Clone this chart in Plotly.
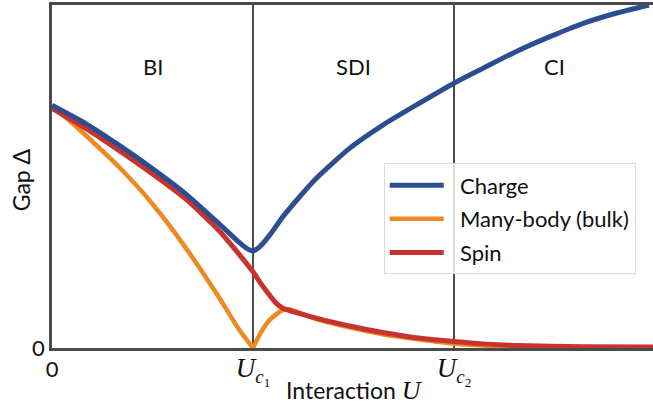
import plotly.graph_objects as go

# Charge gap
charge_u = [0.0, 0.166, 0.331, 0.497, 0.662, 0.828, 0.927, 0.965, 1.0, 1.033, 1.083,
            1.149, 1.232, 1.315, 1.480, 1.646, 1.811, 2.0, 2.143, 2.308, 2.474,
            2.640, 2.805, 2.97]
charge_gap = [0.708, 0.655, 0.592, 0.524, 0.451, 0.364, 0.310, 0.292, 0.283, 0.295, 0.329,
              0.383, 0.441, 0.495, 0.582, 0.650, 0.708, 0.772, 0.815, 0.864, 0.907,
              0.946, 0.976, 1.0]

# Many-body (bulk) gap; it closes at the first critical point (index 8)
bulk_u = [0.0, 0.083, 0.166, 0.331, 0.497, 0.662, 0.828, 0.927, 1.0, 1.033, 1.083,
          1.149, 1.18, 1.315, 1.48, 1.646, 1.811, 1.977, 2.143, 2.31, 2.47, 2.99]
bulk_gap = [0.703, 0.665, 0.621, 0.529, 0.422, 0.295, 0.150, 0.057, 0.0, 0.039, 0.082,
            0.111, 0.113, 0.084, 0.060, 0.040, 0.026, 0.014, 0.007, 0.003, 0.001, 0.0]
bulk_cusp = 8

# Spin gap
spin_u = [0.0, 0.166, 0.331, 0.497, 0.662, 0.828, 0.927, 1.0, 1.05, 1.116, 1.149,
          1.315, 1.48, 1.646, 1.811, 2.0, 2.143, 2.31, 2.64, 2.99]
spin_gap = [0.699, 0.641, 0.577, 0.509, 0.436, 0.344, 0.276, 0.222, 0.179, 0.130, 0.116,
            0.087, 0.064, 0.045, 0.030, 0.019, 0.012, 0.007, 0.004, 0.003]

# Critical interactions and phase labels
critical_u = [1.0, 2.0]
phase_u = [0.5, 1.5, 2.5]
phase_names = ["BI", "SDI", "CI"]
x_tickvals = [0, 1, 2]
serif = "font-family:'Liberation Serif';font-size:27px"
x_ticktext = [
    "0",
    f"<span style=\"{serif}\"><i>U</i><sub><i>c</i><sub>1</sub></sub></span>",
    f"<span style=\"{serif}\"><i>U</i><sub><i>c</i><sub>2</sub></sub></span>",
]

BLUE = "#2c4e91"
ORANGE = "#ee8a22"
RED = "#c9332d"
AXIS = "#4a4a4a"
INK = "#111111"
FONT = "Lato"
PAD = "\u00a0\u00a0"

fig = go.Figure()
fig.add_trace(go.Scatter(x=bulk_u[:bulk_cusp + 1], y=bulk_gap[:bulk_cusp + 1], mode="lines",
                         name=PAD + "Many-body (bulk)", legendgroup="bulk", legendrank=2,
                         line=dict(color=ORANGE, width=4.5, shape="spline", smoothing=0.6)))
fig.add_trace(go.Scatter(x=bulk_u[bulk_cusp:], y=bulk_gap[bulk_cusp:], mode="lines",
                         name=PAD + "Many-body (bulk)", legendgroup="bulk", showlegend=False,
                         line=dict(color=ORANGE, width=4.5, shape="spline", smoothing=0.6)))
fig.add_trace(go.Scatter(x=spin_u, y=spin_gap, mode="lines", name=PAD + "Spin",
                         legendgroup="spin", legendrank=3,
                         line=dict(color=RED, width=5, shape="spline", smoothing=0.6)))
fig.add_trace(go.Scatter(x=charge_u, y=charge_gap, mode="lines", name=PAD + "Charge",
                         legendgroup="charge", legendrank=1,
                         line=dict(color=BLUE, width=5, shape="spline", smoothing=0.6)))

for uc in critical_u:
    fig.add_shape(type="line", x0=uc, x1=uc, y0=0, y1=1, xref="x", yref="y",
                  line=dict(color=AXIS, width=2), layer="below")

for u, name in zip(phase_u, phase_names):
    fig.add_annotation(x=u, y=0.82, xref="x", yref="y", text=name, showarrow=False,
                       xanchor="center", yanchor="middle",
                       font=dict(family=FONT, size=22, color=INK))

fig.add_annotation(x=0.5025, y=-0.123, xref="paper", yref="paper",
                   text="Interaction <span style=\"font-family:'Liberation Serif';"
                        "font-size:26px\"><i>U</i></span>",
                   xanchor="center", yanchor="middle",
                   showarrow=False, font=dict(family=FONT, size=23, color=INK))
fig.add_annotation(x=-0.052, y=0.491, xref="paper", yref="paper", text="Gap Δ",
                   textangle=-90, xanchor="center", yanchor="middle", showarrow=False,
                   font=dict(family=FONT, size=23, color=INK))

fig.update_xaxes(range=[0, 2.99], showline=True, linecolor=AXIS, linewidth=2.5,
                 mirror=True, showgrid=False, zeroline=False, ticks="",
                 tickvals=x_tickvals, ticktext=x_ticktext,
                 tickfont=dict(family=FONT, size=22, color=INK))
fig.update_yaxes(range=[0, 1], showline=True, linecolor=AXIS, linewidth=2.5,
                 mirror=False, showgrid=False, zeroline=False, ticks="",
                 tickvals=[0], ticktext=["0"],
                 tickfont=dict(family=FONT, size=22, color=INK))

fig.update_layout(
    width=653, height=405,
    margin=dict(l=52, r=0, t=5, b=57),
    plot_bgcolor="white", paper_bgcolor="white",
    font=dict(family=FONT, size=22, color=INK),
    legend=dict(x=0.552, y=0.538, xanchor="left", yanchor="top",
                bgcolor="rgba(255,255,255,0.8)", bordercolor="#dddddd", borderwidth=1,
                itemwidth=54, tracegroupgap=2,
                font=dict(family=FONT, size=22, color=INK)),
)

fig.write_html("out.html")
